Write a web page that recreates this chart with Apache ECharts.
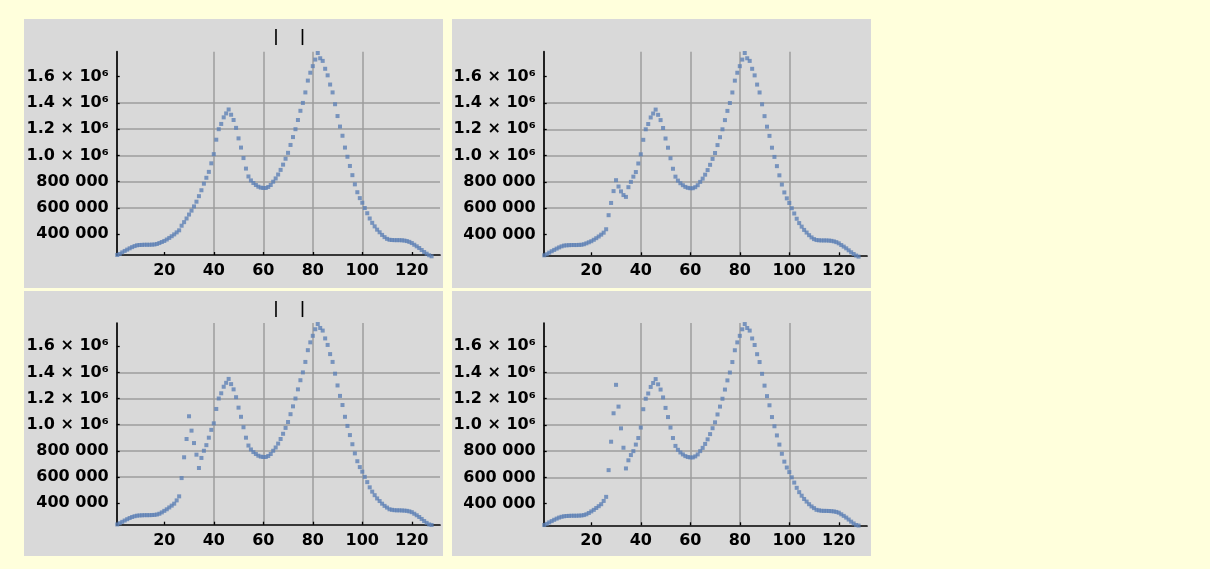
<!DOCTYPE html>
<html>
<head>
<meta charset="utf-8">
<script src="https://cdn.jsdelivr.net/npm/echarts@6/dist/echarts.min.js"></script>
<style>
  html, body { margin: 0; padding: 0; background: #ffffdc; }
  #chart { width: 1210px; height: 569px; }
</style>
</head>
<body>
<div id="chart"></div>
<script>
// Intensity profiles sampled at positions 1..128, one array per panel.
const profileA = [
  242000, 250000, 262000, 273000, 283000, 293000, 302000, 310000, 316000, 318000,
  319000, 320000, 320000, 320000, 321000, 322000, 326000, 333000, 341000, 349000,
  360000, 372000, 385000, 399000, 414000, 430000, 465000, 492000, 520000, 550000,
  580000, 612000, 648000, 690000, 735000, 785000, 830000, 875000, 940000, 1010000,
  1120000, 1200000, 1240000, 1290000, 1320000, 1350000, 1310000, 1270000, 1210000, 1130000,
  1060000, 980000, 900000, 840000, 810000, 790000, 775000, 762000, 755000, 752000,
  752000, 760000, 775000, 800000, 825000, 855000, 890000, 930000, 975000, 1020000,
  1080000, 1140000, 1200000, 1270000, 1340000, 1400000, 1480000, 1570000, 1630000, 1680000,
  1730000, 1780000, 1740000, 1720000, 1660000, 1610000, 1540000, 1480000, 1390000, 1300000,
  1220000, 1150000, 1060000, 990000, 920000, 850000, 780000, 720000, 675000, 640000,
  600000, 560000, 520000, 487000, 460000, 435000, 415000, 395000, 378000, 365000,
  358000, 356000, 355000, 355000, 355000, 354000, 352000, 348000, 342000, 333000,
  320000, 308000, 295000, 280000, 265000, 252000, 240000, 232000
];
const profileB = [
  242000, 250000, 262000, 273000, 283000, 293000, 302000, 310000, 316000, 318000,
  319000, 320000, 320000, 320000, 321000, 322000, 326000, 333000, 341000, 349000,
  360000, 372000, 385000, 399000, 414000, 440000, 547000, 640000, 730000, 813000,
  765000, 728000, 700000, 686000, 760000, 800000, 840000, 875000, 940000, 1010000,
  1120000, 1200000, 1240000, 1290000, 1320000, 1350000, 1310000, 1270000, 1210000, 1130000,
  1060000, 980000, 900000, 840000, 810000, 790000, 775000, 762000, 755000, 752000,
  752000, 760000, 775000, 800000, 825000, 855000, 890000, 930000, 975000, 1020000,
  1080000, 1140000, 1200000, 1270000, 1340000, 1400000, 1480000, 1570000, 1630000, 1680000,
  1730000, 1780000, 1740000, 1720000, 1660000, 1610000, 1540000, 1480000, 1390000, 1300000,
  1220000, 1150000, 1060000, 990000, 920000, 850000, 780000, 720000, 675000, 640000,
  600000, 560000, 520000, 487000, 460000, 435000, 415000, 395000, 378000, 365000,
  358000, 356000, 355000, 355000, 355000, 354000, 352000, 348000, 342000, 333000,
  320000, 308000, 295000, 280000, 265000, 252000, 240000, 232000
];
const profileC = [
  236000, 245000, 256000, 266000, 276000, 285000, 293000, 299000, 303000, 305000,
  306000, 307000, 307000, 307000, 308000, 309000, 312000, 318000, 328000, 340000,
  352000, 366000, 380000, 395000, 420000, 451000, 591000, 750000, 890000, 1064000,
  954000, 859000, 770000, 668000, 745000, 800000, 843000, 900000, 960000, 1010000,
  1120000, 1200000, 1240000, 1290000, 1320000, 1350000, 1310000, 1270000, 1210000, 1130000,
  1060000, 980000, 900000, 840000, 810000, 790000, 775000, 762000, 755000, 752000,
  752000, 760000, 775000, 800000, 825000, 855000, 890000, 930000, 975000, 1020000,
  1080000, 1140000, 1200000, 1270000, 1340000, 1400000, 1480000, 1570000, 1630000, 1680000,
  1730000, 1770000, 1740000, 1720000, 1660000, 1610000, 1540000, 1480000, 1390000, 1300000,
  1220000, 1150000, 1060000, 990000, 920000, 850000, 780000, 720000, 675000, 640000,
  600000, 560000, 520000, 487000, 460000, 435000, 415000, 395000, 378000, 365000,
  352000, 348000, 345000, 344000, 344000, 343000, 342000, 340000, 336000, 330000,
  318000, 306000, 293000, 278000, 262000, 248000, 236000, 232000
];
const profileD = [
  236000, 245000, 256000, 266000, 276000, 285000, 293000, 299000, 303000, 305000,
  306000, 307000, 307000, 307000, 308000, 309000, 312000, 318000, 328000, 340000,
  352000, 366000, 380000, 395000, 420000, 451000, 655000, 872000, 1089000, 1306000,
  1140000, 974000, 826000, 668000, 730000, 770000, 800000, 850000, 900000, 980000,
  1120000, 1200000, 1240000, 1290000, 1320000, 1350000, 1310000, 1270000, 1210000, 1130000,
  1060000, 980000, 900000, 840000, 810000, 790000, 775000, 762000, 755000, 752000,
  752000, 760000, 775000, 800000, 825000, 855000, 890000, 930000, 975000, 1020000,
  1080000, 1140000, 1200000, 1270000, 1340000, 1400000, 1480000, 1570000, 1630000, 1680000,
  1730000, 1770000, 1740000, 1720000, 1660000, 1610000, 1540000, 1480000, 1390000, 1300000,
  1220000, 1150000, 1060000, 990000, 920000, 850000, 780000, 720000, 675000, 640000,
  600000, 560000, 520000, 487000, 460000, 435000, 415000, 395000, 378000, 365000,
  352000, 348000, 345000, 344000, 344000, 343000, 342000, 340000, 336000, 330000,
  318000, 306000, 293000, 278000, 262000, 248000, 236000, 232000
];

const xTicks = [20, 40, 60, 80, 100, 120];
const yTicks = [400000, 600000, 800000, 1000000, 1200000, 1400000, 1600000];

const FONT = 'DejaVu Sans';
const BLUE = '#5e81b5';
const GRID_GRAY = '#9c9c9c';

// panel frames and plotting areas
const panels = [
  { box: [24, 19, 419, 269], grid: { left: 116.7, top: 51.7, width: 323.3, height: 203.3 }, y: [242000, 1790000], data: profileA, marks: true },
  { box: [452, 19, 419, 269], grid: { left: 543.7, top: 51.7, width: 323.3, height: 203.6 }, y: [242000, 1790000], data: profileB, marks: false },
  { box: [24, 291, 419, 265], grid: { left: 116.7, top: 323, width: 323.3, height: 201.7 }, y: [234000, 1778000], data: profileC, marks: true },
  { box: [452, 291, 419, 265], grid: { left: 543.7, top: 323, width: 323.3, height: 202.3 }, y: [234000, 1778000], data: profileD, marks: false }
];

function yLabel(v) {
  if (v >= 1000000) return (v / 1000000).toFixed(1) + ' × 10⁶';
  return Math.round(v / 1000) + ' 000';
}

const labelStyle = { color: '#000', fontFamily: FONT, fontSize: 16, fontWeight: 'bold', margin: 8 };

const grids = [], xAxes = [], yAxes = [], series = [], graphics = [];

panels.forEach((p, i) => {
  graphics.push({
    type: 'rect', z: -10, silent: true,
    shape: { x: p.box[0], y: p.box[1], width: p.box[2], height: p.box[3] },
    style: { fill: '#d9d9d9' }
  });
  if (p.marks) {
    [276, 302.5].forEach(mx => {
      graphics.push({
        type: 'text', silent: true,
        x: mx, y: p.box[1] + 18,
        style: { text: '|', font: 'bold 15px ' + FONT, fill: '#000', align: 'center', verticalAlign: 'middle' }
      });
    });
  }
  grids.push(Object.assign({ containLabel: false }, p.grid));
  xAxes.push({
    type: 'value', gridIndex: i, min: 0.77, max: 131.4,
    axisLine: { show: true, onZero: false, lineStyle: { color: '#000', width: 1.7 } },
    axisTick: { show: true, inside: true, length: 3, customValues: xTicks, lineStyle: { color: '#000', width: 1.3 } },
    axisLabel: Object.assign({ customValues: xTicks }, labelStyle),
    splitLine: { show: true, showMinLine: false, showMaxLine: false, lineStyle: { color: GRID_GRAY, width: 1.5 } }
  });
  yAxes.push({
    type: 'value', gridIndex: i, min: p.y[0], max: p.y[1],
    axisLine: { show: true, onZero: false, lineStyle: { color: '#000', width: 1.7 } },
    axisTick: { show: true, inside: true, length: 3, customValues: yTicks, lineStyle: { color: '#000', width: 1.3 } },
    axisLabel: Object.assign({ customValues: yTicks, formatter: yLabel }, labelStyle),
    splitLine: { show: true, showMinLine: false, showMaxLine: false, lineStyle: { color: GRID_GRAY, width: 1.5 } }
  });
  series.push({
    type: 'scatter', xAxisIndex: i, yAxisIndex: i, clip: false, silent: true,
    symbol: 'rect', symbolSize: 4,
    itemStyle: { color: BLUE },
    data: p.data.map((v, k) => [k + 1, v])
  });
});

const chart = echarts.init(document.getElementById('chart'), null, { renderer: 'canvas' });
chart.setOption({
  backgroundColor: '#ffffdc',
  animation: false,
  grid: grids,
  xAxis: xAxes,
  yAxis: yAxes,
  series: series,
  graphic: graphics
});
</script>
</body>
</html>
